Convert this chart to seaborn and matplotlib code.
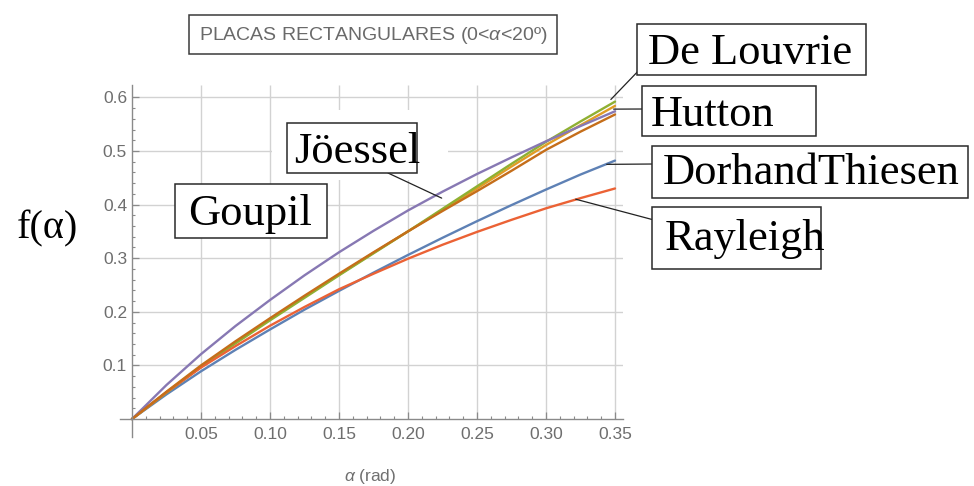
import matplotlib
matplotlib.use("Agg")
import matplotlib.pyplot as plt
from matplotlib.patches import Rectangle
import pandas as pd
import seaborn as sns

# Angle of attack (rad) and f(alpha) for each flat-plate formula
alpha = [0.0, 0.025, 0.05, 0.075, 0.10, 0.125, 0.15, 0.175, 0.20,
         0.225, 0.25, 0.275, 0.30, 0.325, 0.35]
dorhand_thiesen = [0.0, 0.046, 0.089, 0.129, 0.167, 0.204, 0.239, 0.273, 0.306,
                   0.338, 0.369, 0.399, 0.428, 0.456, 0.482]
hutton = [0.0, 0.050, 0.098, 0.143, 0.186, 0.228, 0.269, 0.310, 0.350,
          0.390, 0.430, 0.471, 0.511, 0.548, 0.584]
de_louvrie = [0.0, 0.049, 0.097, 0.141, 0.184, 0.226, 0.268, 0.309, 0.350,
              0.392, 0.434, 0.476, 0.517, 0.555, 0.592]
rayleigh = [0.0, 0.050, 0.096, 0.136, 0.174, 0.209, 0.242, 0.271, 0.299,
            0.325, 0.349, 0.3715, 0.393, 0.412, 0.430]
goupil = [0.0, 0.0635, 0.121, 0.1735, 0.222, 0.268, 0.311, 0.351, 0.389,
          0.424, 0.457, 0.488, 0.518, 0.5465, 0.574]
joessel = [0.0, 0.051, 0.100, 0.145, 0.188, 0.230, 0.271, 0.311, 0.350,
           0.388, 0.425, 0.463, 0.502, 0.536, 0.568]

series_names = ["DorhandThiesen", "Hutton", "De Louvrie", "Rayleigh", "Goupil", "Jöessel"]
series_values = [dorhand_thiesen, hutton, de_louvrie, rayleigh, goupil, joessel]
series_colors = ["#5E81B5", "#E19C24", "#8FB032", "#EB6235", "#8778B3", "#C56E1A"]

x_ticks = [0.05, 0.10, 0.15, 0.20, 0.25, 0.30, 0.35]
x_tick_labels = ["0.05", "0.10", "0.15", "0.20", "0.25", "0.30", "0.35"]
y_ticks = [0.1, 0.2, 0.3, 0.4, 0.5, 0.6]
y_tick_labels = ["0.1", "0.2", "0.3", "0.4", "0.5", "0.6"]

title_text = "PLACAS RECTANGULARES (0<$\\alpha$<20º)"
x_label_text = "$\\alpha$ (rad)"
y_label_text = "f(α)"

sns.set_theme(style="white")
plt.rcParams["font.family"] = ["Liberation Sans", "DejaVu Sans"]
plt.rcParams["mathtext.fontset"] = "custom"
plt.rcParams["mathtext.it"] = "Liberation Sans:italic"
plt.rcParams["mathtext.rm"] = "Liberation Sans"

W, H = 974, 486
fig = plt.figure(figsize=(W / 100, H / 100), dpi=100)
fig.patch.set_facecolor("white")


def fx(px):
    return px / W


def fy(py):
    return 1 - py / H


ax = fig.add_axes([0.1236, 0.1014, 0.5159, 0.7237])
ax.set_facecolor("white")
xmin, xmax = -0.0084, 0.3557
ymin, ymax = -0.033, 0.623
ax.set_xlim(xmin, xmax)
ax.set_ylim(ymin, ymax)

# Grid drawn from the origin outward
grid_kw = dict(color="#d2d2d2", lw=1.0, zorder=0.5)
ax.hlines(y_ticks, 0, xmax, **grid_kw)
ax.vlines(x_ticks, 0, ymax, **grid_kw)

# White area behind the Jöessel label
ax.add_patch(Rectangle((fx(272), fy(180)), fx(448) - fx(272), fy(110) - fy(180),
                       transform=fig.transFigure, facecolor="white",
                       edgecolor="none", zorder=1.5))

df = pd.DataFrame({
    "alpha": alpha * len(series_names),
    "f": [v for vals in series_values for v in vals],
    "serie": [n for n in series_names for _ in alpha],
})
sns.lineplot(data=df, x="alpha", y="f", hue="serie", hue_order=series_names,
             palette=dict(zip(series_names, series_colors)), lw=1.7,
             legend=False, ax=ax, zorder=2, estimator=None, sort=False)
ax.set_xlabel("")
ax.set_ylabel("")

# Axes crossing at the origin
for side in ["top", "right"]:
    ax.spines[side].set_visible(False)
ax.spines["left"].set_position(("data", 0))
ax.spines["bottom"].set_position(("data", 0))
for side in ["left", "bottom"]:
    ax.spines[side].set_color("#8a8a8a")
    ax.spines[side].set_linewidth(1.0)
    ax.spines[side].set_zorder(3)

ax.set_xticks(x_ticks)
ax.set_xticklabels(x_tick_labels)
ax.set_yticks(y_ticks)
ax.set_yticklabels(y_tick_labels)
ax.set_xticks([i / 100 for i in range(1, 36) if i % 5], minor=True)
ax.set_yticks([i / 100 for i in range(2, 62, 2) if i % 10], minor=True)
ax.tick_params(axis="both", which="major", direction="in", length=5, width=0.9,
               color="#8a8a8a", labelcolor="#6e6e6e", labelsize=12.5)
ax.tick_params(axis="both", which="minor", direction="in", length=2.5, width=0.8,
               color="#8a8a8a")
ax.tick_params(axis="x", which="major", pad=6)
ax.tick_params(axis="y", which="major", pad=3.5)
ax.tick_params(left=True, bottom=True, which="both")

# Title box
fig.patches.append(Rectangle((fx(189), fy(54)), fx(557) - fx(189), fy(15) - fy(54),
                             transform=fig.transFigure, facecolor="white",
                             edgecolor="#3a3a3a", lw=1.1, zorder=5))
fig.text(fx(373), fy(35), title_text, ha="center", va="center", fontsize=14,
         color="#6a6a6a", zorder=6)

# Axis labels
fig.text(fx(370), fy(476), x_label_text, ha="center", va="center", fontsize=12.5,
         color="#707070")
fig.text(fx(47), fy(229), y_label_text, ha="center", va="center", fontsize=29,
         family=["Liberation Serif", "DejaVu Serif"], color="black")

# Curve labels: box, text left x, baseline y, pointer start, pointer target (data)
labels = [
    ("De Louvrie", (637, 24, 866, 75), 648, 64, (644, 65), (0.347, 0.596)),
    ("Hutton", (642, 86, 816, 136), 651, 126, (644, 109), (0.349, 0.578)),
    ("DorhandThiesen", (652, 146, 968, 198), 663, 184, (654, 164), (0.344, 0.475)),
    ("Rayleigh", (652, 207, 821, 269), 665, 250, (654, 220), (0.3215, 0.410)),
    ("Jöessel", (287, 123, 417, 173), 294, 163, (388, 173), (0.2244, 0.412)),
    ("Goupil", (175, 184, 327, 238), 188, 225, None, None),
]
for text, (x0, y0, x1, y1), tx, ty, start, target in labels:
    if start is not None:
        ax.annotate("", xy=target, xycoords="data",
                    xytext=(fx(start[0]), fy(start[1])), textcoords="figure fraction",
                    arrowprops=dict(arrowstyle="-", color="#222222", lw=0.9,
                                    shrinkA=0, shrinkB=0),
                    annotation_clip=False, zorder=4)
    fig.patches.append(Rectangle((fx(x0), fy(y1)), fx(x1) - fx(x0), fy(y0) - fy(y1),
                                 transform=fig.transFigure, facecolor="white",
                                 edgecolor="#2a2a2a", lw=1.1, zorder=5))
    fig.text(fx(tx), fy(ty), text, ha="left", va="baseline", fontsize=32,
             family=["Liberation Serif", "DejaVu Serif"], color="black", zorder=6)

fig.savefig("out.png", dpi=100, facecolor="white")
